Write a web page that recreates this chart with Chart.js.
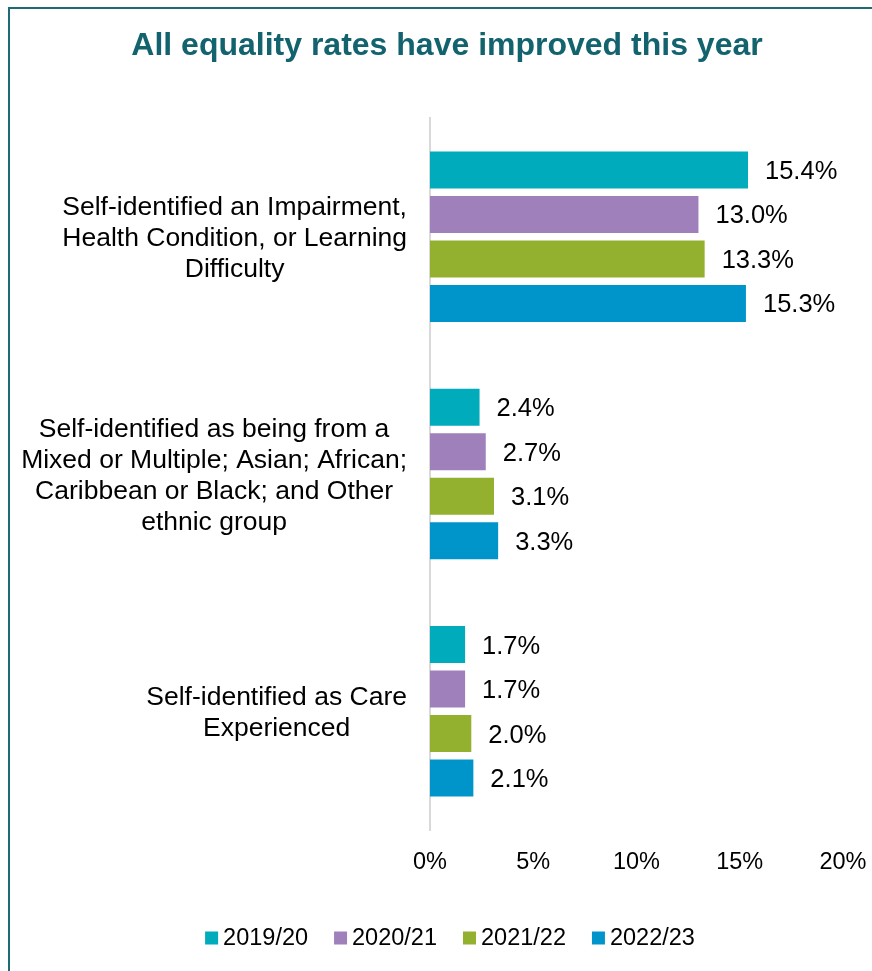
<!DOCTYPE html>
<html>
<head>
<meta charset="utf-8">
<title>All equality rates have improved this year</title>
<script src="https://cdn.jsdelivr.net/npm/chart.js@4/dist/chart.umd.min.js"></script>
<style>
  html, body { margin: 0; padding: 0; background: #fff; overflow: hidden; }
  #wrap { position: relative; width: 872px; height: 971px; }
  #frame {
    position: absolute; left: 8px; top: 7px; width: 1000px; height: 1100px;
    border: 2px solid #1d6b74; box-sizing: border-box;
  }
  #myChart { position: absolute; left: 0; top: 0; }
</style>
</head>
<body>
<div id="wrap">
  <div id="frame"></div>
  <canvas id="myChart" width="872" height="971"></canvas>
</div>
<script>
const TITLE = 'All equality rates have improved this year';

const categories = [
  ['Self-identified an Impairment,', 'Health Condition, or Learning', 'Difficulty'],
  ['Self-identified as being from a', 'Mixed or Multiple; Asian; African;', 'Caribbean or Black; and Other', 'ethnic group'],
  ['Self-identified as Care', 'Experienced'],
];

const years = ['2019/20', '2020/21', '2021/22', '2022/23'];

const rates1920 = [15.4, 2.4, 1.7];
const rates2021 = [13.0, 2.7, 1.7];
const rates2122 = [13.3, 3.1, 2.0];
const rates2223 = [15.3, 3.3, 2.1];

const xTicks = [0, 5, 10, 15, 20];

const barColors = ['#00abbb', '#a080ba', '#93b12e', '#0095ca'];

const FONT = '"Liberation Sans", Arial, sans-serif';
const chart = document.querySelector('#myChart');

// title, category labels (lines centred inside a right-aligned block),
// value labels and the legend are all painted here
const extras = {
  id: 'extras',
  afterDraw(c) {
    const ctx = c.ctx;
    const area = c.chartArea;
    const yScale = c.scales.y;
    ctx.save();

    // title
    ctx.fillStyle = '#13636f';
    ctx.font = 'bold 32px ' + FONT;
    ctx.textAlign = 'center';
    ctx.textBaseline = 'middle';
    ctx.fillText(TITLE, 447, 46);

    // category labels
    ctx.fillStyle = '#000';
    ctx.font = '26.5px ' + FONT;
    const lineH = 31;
    categories.forEach((lines, i) => {
      const w = Math.max(...lines.map((l) => ctx.measureText(l).width));
      const cx = area.left - 23 - w / 2;
      const cy = yScale.getPixelForValue(i) + 2;
      const y0 = cy - ((lines.length - 1) * lineH) / 2;
      lines.forEach((l, k) => ctx.fillText(l, cx, y0 + k * lineH));
    });

    // value labels
    ctx.font = '25.5px ' + FONT;
    ctx.textAlign = 'left';
    c.data.datasets.forEach((ds, di) => {
      c.getDatasetMeta(di).data.forEach((bar, i) => {
        ctx.fillText(ds.data[i].toFixed(1) + '%', bar.x + 17, bar.y + 2);
      });
    });

    // legend
    ctx.font = '23.5px ' + FONT;
    const box = 13;
    const gap = 5;
    const spacing = 26;
    const widths = years.map((y) => box + gap + ctx.measureText(y).width);
    const total = widths.reduce((a, b) => a + b, 0) + spacing * (years.length - 1);
    let x = 450 - total / 2;
    const ly = 938;
    years.forEach((y, i) => {
      ctx.fillStyle = barColors[i];
      ctx.fillRect(x, ly - box / 2, box, box);
      ctx.fillStyle = '#000';
      ctx.fillText(y, x + box + gap, ly + 1);
      x += widths[i] + spacing;
    });

    ctx.restore();
  },
};

const seriesData = [rates1920, rates2021, rates2122, rates2223];

const config = {
  type: 'bar',
  data: {
    labels: categories.map((l) => l.join(' ')),
    datasets: years.map((y, i) => ({
      label: y,
      data: seriesData[i],
      backgroundColor: barColors[i],
      borderWidth: 0,
      categoryPercentage: 0.75,
      barPercentage: 0.83,
    })),
  },
  options: {
    indexAxis: 'y',
    responsive: false,
    animation: false,
    layout: { padding: { left: 10, right: 29, top: 118, bottom: 0 } },
    plugins: {
      legend: { display: false },
      title: { display: false },
      tooltip: { enabled: false },
    },
    scales: {
      x: {
        min: 0,
        max: 20,
        afterBuildTicks(s) {
          s.ticks = xTicks.map((v) => ({ value: v }));
        },
        afterFit(s) {
          s.height = 141;
          // the 20% label may overhang the plot edge
          s.paddingLeft = 0;
          s.paddingRight = 0;
        },
        grid: { display: false, drawTicks: false },
        border: { display: false },
        ticks: {
          padding: 18,
          color: '#000',
          font: { family: FONT, size: 23.5 },
          maxRotation: 0,
          callback: (v) => v + '%',
        },
      },
      y: {
        afterFit(s) {
          s.width = 420;
        },
        grid: { display: false, drawTicks: false },
        border: { display: true, color: '#d9d9d9', width: 2 },
        ticks: { display: false },
      },
    },
  },
  plugins: [extras],
};

new Chart(chart, config);
</script>
</body>
</html>
